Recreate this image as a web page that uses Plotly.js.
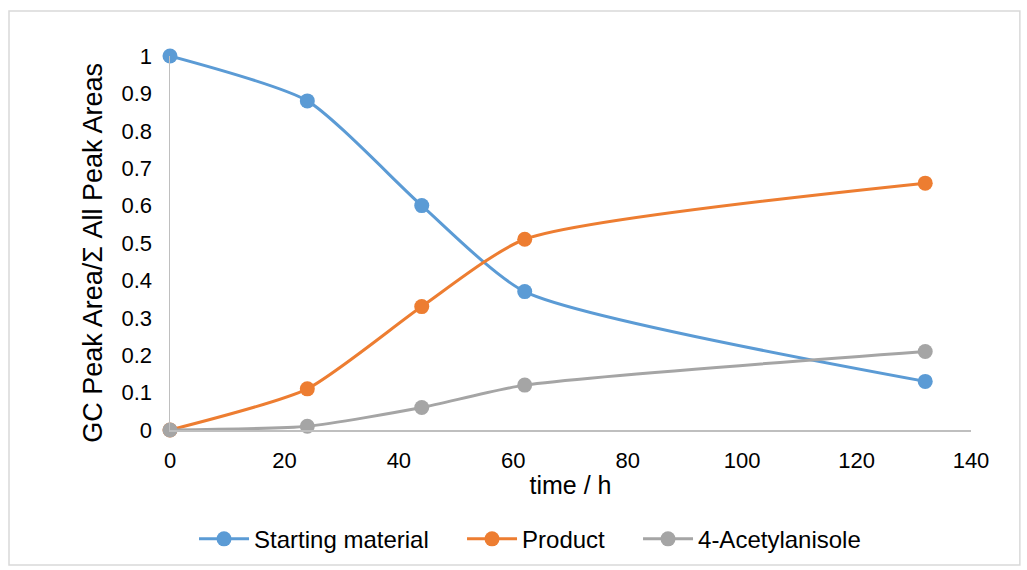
<!DOCTYPE html>
<html>
<head>
<meta charset="utf-8">
<script src="https://cdn.plot.ly/plotly-3.0.1.min.js"></script>
<style>html,body{margin:0;padding:0;background:#fff;}#chart{width:1027px;height:570px;}</style>
</head>
<body>
<div id="chart"></div>
<script>
const timeH = [0, 24, 44, 62, 132];
const startingMaterial = [1, 0.88, 0.6, 0.37, 0.13];
const product = [0, 0.11, 0.33, 0.51, 0.66];
const acetylanisole = [0, 0.01, 0.06, 0.12, 0.21];
const seriesNames = ["Starting material", "Product", "4-Acetylanisole"];
const seriesColors = ["#5b9bd5", "#ed7d31", "#a5a5a5"];
const yTicks = [0, 0.1, 0.2, 0.3, 0.4, 0.5, 0.6, 0.7, 0.8, 0.9, 1];
const yTickText = ["0", "0.1", "0.2", "0.3", "0.4", "0.5", "0.6", "0.7", "0.8", "0.9", "1"];
const xTitle = "time / h";
const yTitle = "GC Peak Area/Σ All Peak Areas";

// legend entry widths (style only)
const legendEntryWidths = [203, 111, 165];

const ys = [startingMaterial, product, acetylanisole];
const traces = ys.map((y, i) => ({
  x: timeH, y: y, name: seriesNames[i], type: "scatter", mode: "lines+markers",
  cliponaxis: false, legendwidth: legendEntryWidths[i],
  line: {color: seriesColors[i], width: 3, shape: "spline", smoothing: 0.6},
  marker: {color: seriesColors[i], size: 15}
}));
const font = {family: "Liberation Sans, Arial, sans-serif", color: "#000"};
const layout = {
  width: 1027, height: 570,
  margin: {l: 170, r: 56, t: 56, b: 140, autoexpand: false},
  paper_bgcolor: "#fff", plot_bgcolor: "#fff",
  showlegend: true,
  legend: {orientation: "h", x: 0.03, xanchor: "left", y: -0.232, yanchor: "top", itemwidth: 50,
    bgcolor: "rgba(0,0,0,0)", font: Object.assign({size: 24}, font)},
  xaxis: {range: [0, 140], dtick: 20, tick0: 0, showgrid: false, zeroline: false, automargin: false,
    showline: true, linecolor: "#bfbfbf", linewidth: 1.5, ticks: "outside", ticklen: 10, tickcolor: "rgba(0,0,0,0)",
    tickfont: Object.assign({size: 22}, font),
    title: {text: xTitle, font: Object.assign({size: 25}, font), standoff: 4}},
  yaxis: {range: [0, 1], tickvals: yTicks, ticktext: yTickText, showgrid: false, zeroline: false, automargin: false,
    showline: true, linecolor: "#bfbfbf", linewidth: 1.5, ticks: "outside", ticklen: 12, tickcolor: "rgba(0,0,0,0)",
    tickfont: Object.assign({size: 22}, font)},
  annotations: [{text: yTitle, xref: "paper", yref: "paper", x: -0.096, y: 0.474,
    xanchor: "center", yanchor: "middle", textangle: -90, showarrow: false,
    font: Object.assign({size: 27}, font)}],
  shapes: [{type: "rect", xref: "paper", yref: "paper", x0: -0.201, x1: 1.061, y0: -0.361, y1: 1.12,
    line: {color: "#d9d9d9", width: 1.5}, fillcolor: "rgba(0,0,0,0)", layer: "below"}]
};
Plotly.newPlot("chart", traces, layout, {displayModeBar: false, staticPlot: true});
</script>
</body>
</html>
